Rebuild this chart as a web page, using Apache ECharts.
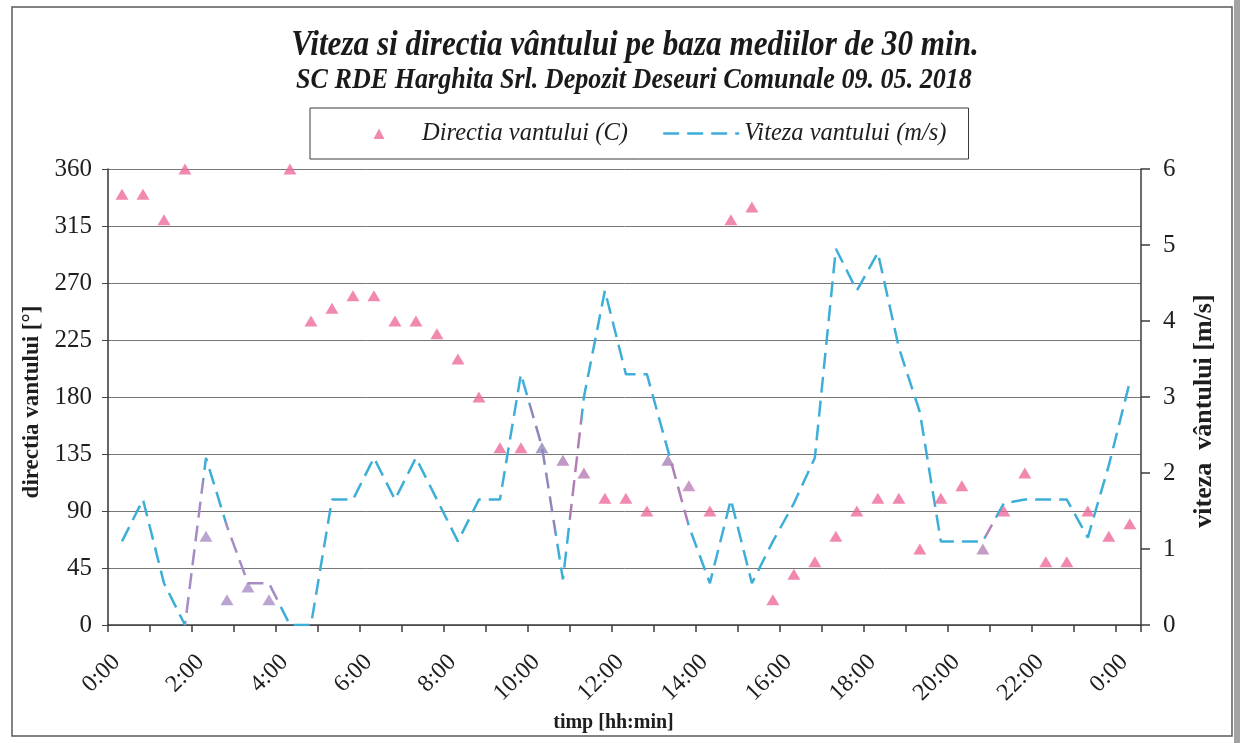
<!DOCTYPE html>
<html>
<head>
<meta charset="utf-8">
<title>Viteza si directia vântului</title>
<script src="https://cdn.jsdelivr.net/npm/echarts@6.0.0/dist/echarts.min.js"></script>
<style>
  html, body { margin: 0; padding: 0; background: #ffffff; }
  #chart { width: 1240px; height: 743px; }
</style>
</head>
<body>
<div id="chart"></div>
<script>
// 30-minute averages, 09.05.2018 (last reading falls after midnight)
const times = ['0:20','0:50','1:20','1:50','2:20','2:50','3:20','3:50','4:20','4:50',
  '5:20','5:50','6:20','6:50','7:20','7:50','8:20','8:50','9:20','9:50',
  '10:20','10:50','11:20','11:50','12:20','12:50','13:20','13:50','14:20','14:50',
  '15:20','15:50','16:20','16:50','17:20','17:50','18:20','18:50','19:20','19:50',
  '20:20','20:50','21:20','21:50','22:20','22:50','23:20','23:50','0:20'];

// wind direction [degrees]
const directionDeg = [340,340,320,360,70,20,30,20,360,240,
  250,260,260,240,240,230,210,180,140,140,
  140,130,120,100,100,90,130,110,90,320,
  330,20,40,50,70,90,100,100,60,100,
  110,60,90,120,50,50,90,70,80];

// wind speed [m/s]
const windSpeed = [1.1,1.65,0.55,0,2.2,1.3,0.55,0.55,0,0,
  1.65,1.65,2.2,1.65,2.2,1.65,1.1,1.65,1.65,3.3,
  2.35,0.6,3.0,4.4,3.3,3.3,2.3,1.3,0.55,1.65,
  0.55,1.1,1.6,2.2,4.95,4.4,4.9,3.65,2.8,1.1,
  1.1,1.1,1.6,1.65,1.65,1.65,1.15,2.1,3.2];

const dirTicks = [0, 45, 90, 135, 180, 225, 270, 315, 360];
const speedTicks = [0, 1, 2, 3, 4, 5, 6];

const titleText = 'Viteza si directia vântului pe baza mediilor de 30 min.';
const subtitleText = 'SC RDE Harghita Srl. Depozit Deseuri Comunale 09. 05. 2018';
const dirName = 'Directia vantului (C)';
const speedName = 'Viteza vantului (m/s)';

// clock strings -> hours since 0:00, continuing past midnight
function toHours(list) {
  const out = [];
  let dayOffset = 0, prev = -1;
  list.forEach(t => {
    const [h, m] = t.split(':').map(Number);
    let v = h + m / 60 + dayOffset;
    if (v < prev) { dayOffset += 24; v += 24; }
    prev = v;
    out.push(v);
  });
  return out;
}
const hours = toHours(times);
const dirData = hours.map((h, i) => [h, directionDeg[i]]);
const speedData = hours.map((h, i) => [h, windSpeed[i]]);

const serif = '"Liberation Serif", "Times New Roman", serif';
const pink = '#EE6A9C';
const blue = '#3DAED7';

// printed ink mixes where the pink markers meet the blue line
const markerTint = { 4: '#A98FC6', 5: '#A98FC6', 6: '#A98FC6', 7: '#A98FC6',
  20: '#8C88BC', 21: '#B07DB6', 22: '#B67CB4', 26: '#AA80B8', 27: '#BE82B9', 41: '#B782B8' };

// small centred triangle inside a wide legend slot (corner specks fix the box)
const legendTriangle = 'path://M0,0L0.01,0L0,0.01Z M76,11L75.99,11L76,10.99Z M32.5,11L38,0.5L43.5,11Z';

const chart = echarts.init(document.getElementById('chart'));

chart.setOption({
  backgroundColor: '#ffffff',
  animation: false,
  textStyle: { fontFamily: serif, color: '#1e1e1e' },
  graphic: [
    { type: 'rect', silent: true, z: -10,
      shape: { x: 12, y: 7, width: 1220, height: 729 },
      style: { fill: 'none', stroke: '#5a5a5a', lineWidth: 1.5 } },
    { type: 'rect', silent: true,
      shape: { x: 1234, y: 0, width: 6, height: 743 },
      style: { fill: '#a3a3a3' } },
    { type: 'text', x: 635, y: 46, scaleX: 0.866, silent: true,
      style: { text: titleText, font: 'italic bold 36px ' + serif, fill: '#1a1a1a',
               align: 'center', verticalAlign: 'middle', textAlign: 'center', textVerticalAlign: 'middle' } },
    { type: 'text', x: 634, y: 80, scaleX: 0.87, silent: true,
      style: { text: subtitleText, font: 'italic bold 30px ' + serif, fill: '#1a1a1a',
               align: 'center', verticalAlign: 'middle', textAlign: 'center', textVerticalAlign: 'middle' } }
  ],
  legend: {
    left: 310, top: 108,
    padding: [13, 22, 13, 31],
    borderColor: '#3a3a3a', borderWidth: 1,
    itemWidth: 76, itemHeight: 11, itemGap: 34,
    textStyle: { fontFamily: serif, fontStyle: 'italic', fontSize: 24.5, color: '#1e1e1e' },
    data: [
      { name: dirName, icon: legendTriangle, itemStyle: { color: pink } },
      { name: speedName, itemStyle: { opacity: 0 }, lineStyle: { color: blue, width: 2.5, type: [16, 8] } }
    ]
  },
  visualMap: {
    type: 'piecewise', show: false, seriesIndex: 1, dimension: 0,
    pieces: [
      { min: 1.83, max: 2.26, color: '#A58CC6' },
      { min: 2.81, max: 4.07, color: '#A58CC6' },
      { min: 10.05, max: 10.67, color: '#8F86BA' },
      { min: 11.0, max: 11.29, color: '#B07DB5' },
      { min: 13.43, max: 13.79, color: '#AC7FB7' },
      { min: 20.88, max: 21.12, color: '#B582B8' }
    ],
    outOfRange: { color: blue }
  },
  grid: { left: 108, right: 99, top: 169, bottom: 118 },
  xAxis: {
    type: 'value', min: 0, max: 24.6, interval: 1,
    name: 'timp [hh:min]', nameLocation: 'middle', nameGap: 83,
    nameTextStyle: { fontFamily: serif, fontWeight: 'bold', fontSize: 20, color: '#1e1e1e', padding: [0, 22, 0, 0] },
    axisLine: { show: true, onZero: false, lineStyle: { color: '#3c3c3c', width: 1.5 } },
    axisTick: { show: true, length: 7, lineStyle: { color: '#3c3c3c', width: 1.5 } },
    splitLine: { show: false },
    axisLabel: {
      rotate: 45, margin: 25, verticalAlign: 'top',
      fontFamily: serif, fontSize: 24, color: '#1e1e1e',
      formatter: v => {
        const r = Math.round(v);
        if (Math.abs(v - r) > 1e-6 || r % 2 !== 0) return '';
        return (r % 24) + ':00';
      }
    }
  },
  yAxis: [
    {
      type: 'value', min: dirTicks[0], max: dirTicks[dirTicks.length - 1], interval: dirTicks[1] - dirTicks[0],
      position: 'left',
      name: 'directia vantului [°]', nameLocation: 'middle', nameGap: 64, nameRotate: 90,
      nameTextStyle: { fontFamily: serif, fontWeight: 'bold', fontSize: 23, color: '#1e1e1e', padding: [0, 10, 0, 0] },
      axisLine: { show: true, lineStyle: { color: '#333333', width: 1.5 } },
      axisTick: { show: true, length: 6, lineStyle: { color: '#444444' } },
      splitLine: { show: true, lineStyle: { color: '#777777', width: 1 } },
      axisLabel: { margin: 16, fontFamily: serif, fontSize: 25, color: '#1e1e1e' }
    },
    {
      type: 'value', min: speedTicks[0], max: speedTicks[speedTicks.length - 1], interval: speedTicks[1] - speedTicks[0],
      position: 'right',
      name: 'viteza  vântului [m/s]', nameLocation: 'middle', nameGap: 50, nameRotate: 90,
      nameTextStyle: { fontFamily: serif, fontWeight: 'bold', fontSize: 26, color: '#1e1e1e', padding: [0, 28, 0, 0] },
      axisLine: { show: true, lineStyle: { color: '#3c3c3c', width: 1.5 } },
      axisTick: { show: true, length: 9, lineStyle: { color: '#3c3c3c', width: 1.5 } },
      splitLine: { show: false },
      axisLabel: { margin: 22, fontFamily: serif, fontSize: 25, color: '#1e1e1e' }
    }
  ],
  series: [
    {
      name: dirName, type: 'scatter', yAxisIndex: 0,
      symbol: 'triangle', symbolSize: [13, 11],
      itemStyle: { color: p => markerTint[p.dataIndex] || pink },
      data: dirData, z: 3
    },
    {
      name: speedName, type: 'line', yAxisIndex: 1,
      symbol: 'none', showSymbol: false,
      lineStyle: { width: 2.5, type: [16, 8] },
      data: speedData, z: 2
    }
  ]
});
</script>
</body>
</html>
